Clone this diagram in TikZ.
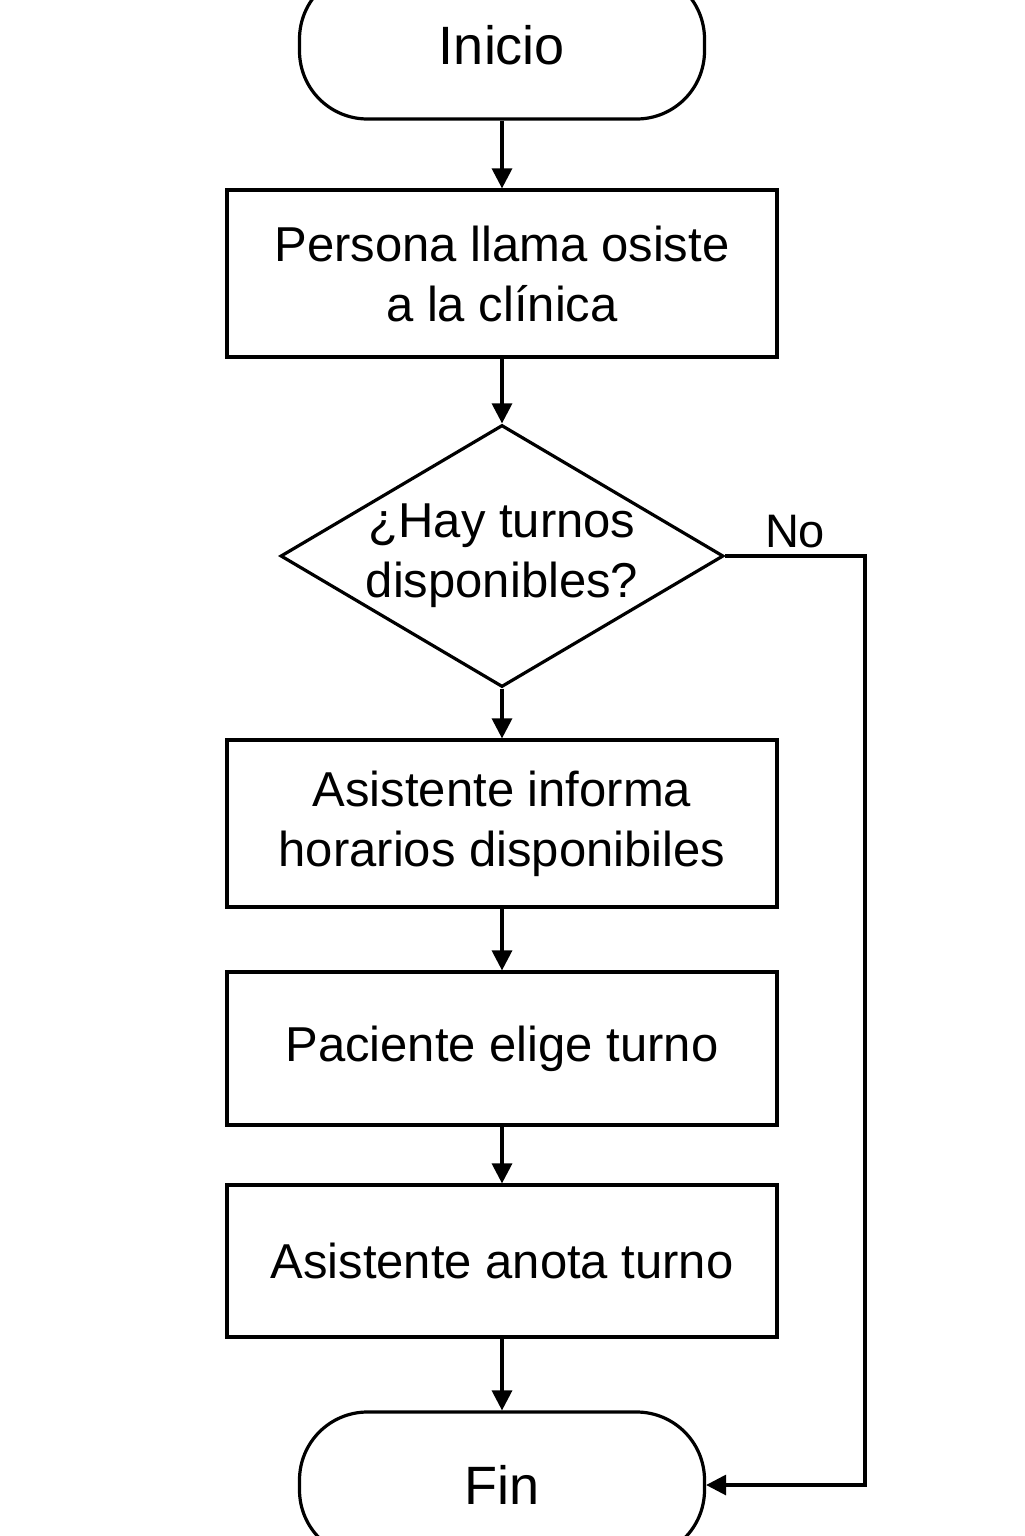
\documentclass[tikz,border=0pt]{standalone}
\usepackage{fontspec}
\setmainfont{Liberation Sans}
\usetikzlibrary{shapes.geometric, arrows.meta}

\begin{document}
\begin{tikzpicture}[
x=1pt, y=1pt,
line width=1.6pt,
texto/.style={font=\fontsize{24.5pt}{30pt}\selectfont},
extremo/.style={rectangle, rounded corners=34pt, draw, minimum width=202.5pt, minimum height=74pt, font=\fontsize{27pt}{32pt}\selectfont},
caja/.style={rectangle, draw, minimum width=275pt, align=center, texto},
decision/.style={diamond, draw, minimum width=221.5pt, minimum height=131pt, inner sep=0pt},
flecha/.style={-{Triangle[length=10pt,width=10pt]}}
]
\useasboundingbox (0,0) rectangle (512,-768);

\node[extremo] (inicio) at (251,-22.5) {Inicio};
\node[caja, minimum height=83.5pt, node distance=114.25pt] (llamada) [below of=inicio] {Persona llama osiste\\a la clínica};
\node[decision, node distance=141.25pt, label={[texto, align=center]center:{¿Hay turnos\\disponibles?}}] (turnos) [below of=llamada] {};
\node[caja, minimum height=83.5pt, node distance=133.75pt] (horarios) [below of=turnos] {Asistente informa\\horarios disponibiles};
\node[caja, minimum height=76.5pt, node distance=112.5pt] (elige) [below of=horarios] {Paciente elige turno};
\node[caja, minimum height=76pt, node distance=106.25pt] (anota) [below of=elige] {Asistente anota turno};
\node[extremo, minimum height=73pt, node distance=112pt] (fin) [below of=anota] {Fin};
\coordinate (lado) at (432.5,-278);

\draw[flecha] (inicio) -- (llamada);
\draw[flecha] (llamada) -- (turnos);
\draw[flecha] (turnos) -- (horarios);
\draw[flecha] (horarios) -- (elige);
\draw[flecha] (elige) -- (anota);
\draw[flecha] (anota) -- (fin);

\draw[flecha] (turnos) -- node[above, font=\fontsize{23.5pt}{28pt}\selectfont] {No} (lado) |- (fin);
\end{tikzpicture}
\end{document}
